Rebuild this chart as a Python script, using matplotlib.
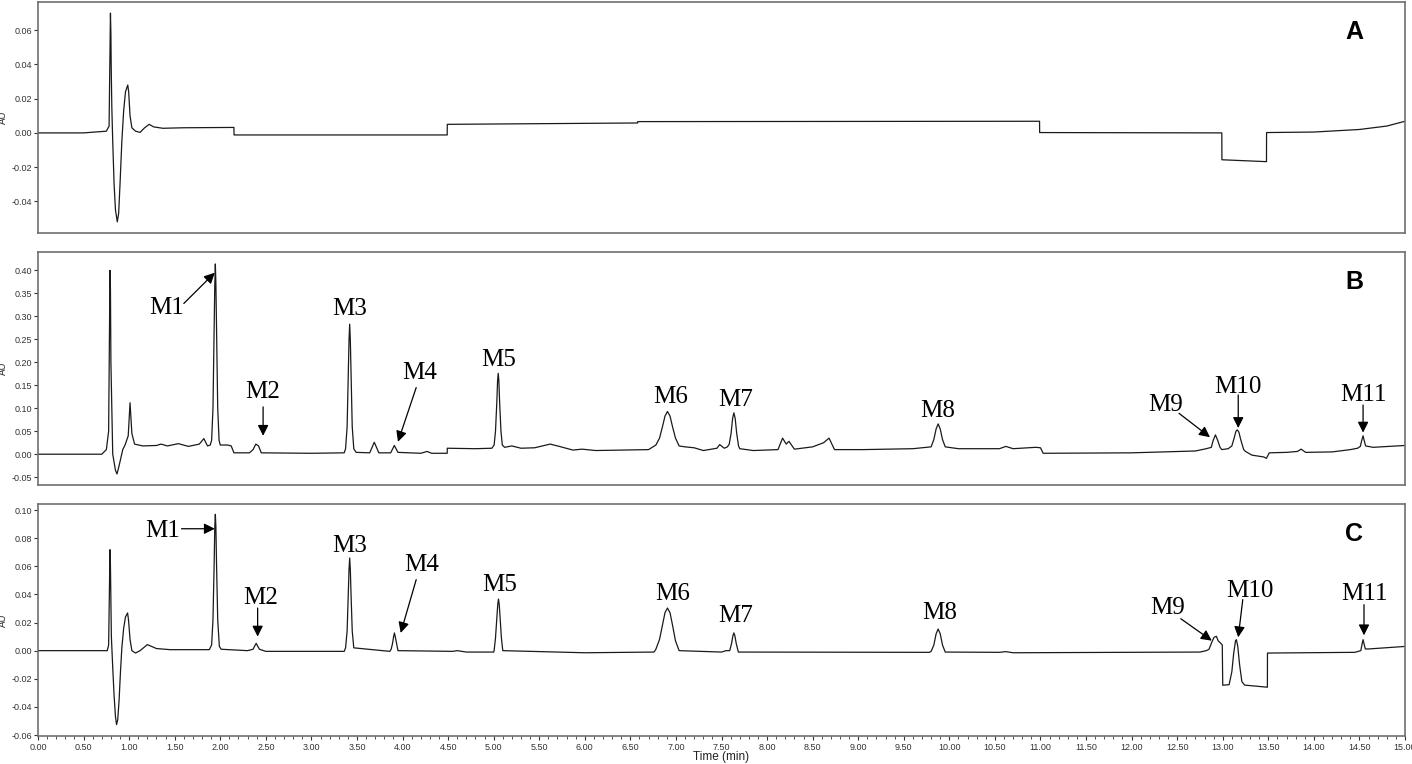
import matplotlib
matplotlib.use("Agg")
import matplotlib.pyplot as plt
from matplotlib.ticker import MultipleLocator, FormatStrFormatter

plt.rcParams['axes.unicode_minus'] = False

t_A = [0.00, 0.50, 0.75, 0.78, 0.795, 0.80, 0.803, 0.81, 0.82, 0.835, 0.85, 0.87, 0.885, 0.90,
       0.92, 0.94, 0.96, 0.985, 0.995, 1.01, 1.03, 1.07, 1.12, 1.17, 1.22, 1.27, 1.37, 1.60,
       2.15, 2.151, 4.49, 4.491, 6.58, 6.581, 10.99, 10.991, 12.99, 12.991, 13.48, 13.481,
       14.00, 14.50, 14.80, 15.00]
au_A = [0.000, 0.000, 0.001, 0.004, 0.070, 0.058, 0.040, 0.015, -0.005, -0.030, -0.045, -0.052,
        -0.047, -0.030, -0.005, 0.013, 0.024, 0.028, 0.024, 0.010, 0.003, 0.001, 0.0003, 0.003,
        0.005, 0.0035, 0.0027, 0.003, 0.0032, -0.0012, -0.0012, 0.0050, 0.0058, 0.0066,
        0.0068, 0.0002, 0.0000, -0.0157, -0.0168, 0.0002, 0.0005, 0.002, 0.004, 0.0068]

t_B = [0.00, 0.70, 0.75, 0.775, 0.79, 0.795, 0.80, 0.82, 0.85, 0.867, 0.89, 0.93, 0.955, 0.99,
       1.01, 1.03, 1.06, 1.15, 1.30, 1.35, 1.42, 1.54, 1.65, 1.77, 1.82, 1.86, 1.89,
       1.905, 1.92, 1.933, 1.940, 1.946, 1.952, 1.959, 1.972, 1.987, 2.00,
       2.08, 2.12, 2.15, 2.32, 2.36, 2.39, 2.42, 2.45, 3.00,
       3.36, 3.375, 3.392, 3.405, 3.413, 3.42, 3.427, 3.435, 3.448, 3.465, 3.49,
       3.64, 3.69, 3.74, 3.87, 3.91, 3.95, 4.20, 4.27, 4.32, 4.49, 4.491, 4.80, 4.98,
       5.005, 5.02, 5.035, 5.043, 5.05, 5.057, 5.065, 5.08, 5.095, 5.12,
       5.20, 5.30, 5.45, 5.62, 5.72, 5.87, 5.97, 6.12, 6.70,
       6.78, 6.82, 6.855, 6.88, 6.907, 6.935, 6.96, 6.995, 7.035,
       7.10, 7.20, 7.30, 7.45, 7.48, 7.53, 7.565,
       7.585, 7.605, 7.622, 7.636, 7.65, 7.667, 7.687, 7.70,
       7.85, 8.12, 8.17, 8.21, 8.24, 8.30, 8.50, 8.62, 8.68, 8.74, 9.05, 9.30, 9.60,
       9.80, 9.83, 9.855, 9.877, 9.90, 9.925, 9.955,
       10.10, 10.55, 10.62, 10.70, 10.95, 11.00, 11.03, 12.00, 12.70, 12.82,
       12.875, 12.895, 12.92, 12.945, 12.97, 12.99, 13.06,
       13.10, 13.125, 13.145, 13.16, 13.177, 13.20, 13.23,
       13.25, 13.32, 13.45, 13.48, 13.51, 13.70, 13.82, 13.86, 13.91, 14.20, 14.40, 14.48,
       14.51, 14.525, 14.54, 14.552, 14.568, 14.65, 15.00]
au_B = [0.000, 0.000, 0.010, 0.050, 0.400, 0.360, 0.200, 0.000, -0.035, -0.043, -0.025, 0.010,
        0.020, 0.040, 0.112, 0.045, 0.022, 0.018, 0.019, 0.022, 0.018, 0.023, 0.017, 0.022,
        0.034, 0.018, 0.020,
        0.030, 0.100, 0.270, 0.370, 0.414, 0.370, 0.270, 0.100, 0.030, 0.020,
        0.020, 0.018, 0.003, 0.003, 0.010, 0.022, 0.018, 0.003, 0.002,
        0.003, 0.012, 0.060, 0.175, 0.250, 0.283, 0.250, 0.175, 0.060, 0.012, 0.004,
        0.003, 0.026, 0.003, 0.003, 0.019, 0.004, 0.002, 0.006, 0.002, 0.002, 0.013, 0.012, 0.013,
        0.020, 0.050, 0.115, 0.160, 0.176, 0.160, 0.115, 0.050, 0.020, 0.015,
        0.018, 0.013, 0.014, 0.022, 0.017, 0.009, 0.011, 0.008, 0.010,
        0.020, 0.035, 0.062, 0.083, 0.093, 0.083, 0.062, 0.035, 0.018,
        0.016, 0.014, 0.008, 0.013, 0.021, 0.013, 0.016,
        0.022, 0.045, 0.078, 0.090, 0.078, 0.045, 0.018, 0.012,
        0.008, 0.010, 0.035, 0.022, 0.028, 0.011, 0.016, 0.025, 0.035, 0.010, 0.010, 0.011, 0.012,
        0.016, 0.032, 0.055, 0.066, 0.055, 0.032, 0.016,
        0.012, 0.012, 0.017, 0.012, 0.015, 0.014, 0.002, 0.003, 0.007, 0.012,
        0.015, 0.030, 0.042, 0.030, 0.015, 0.010, 0.012,
        0.018, 0.035, 0.050, 0.053, 0.048, 0.030, 0.010,
        0.006, -0.002, -0.006, -0.009, 0.003, 0.004, 0.006, 0.011, 0.004, 0.005, 0.010, 0.013,
        0.017, 0.030, 0.040, 0.030, 0.018, 0.015, 0.019]

t_C = [0.00, 0.76, 0.775, 0.79, 0.795, 0.805, 0.82, 0.835, 0.85, 0.862, 0.875, 0.89, 0.905,
       0.92, 0.94, 0.96, 0.983, 0.993, 1.01, 1.03, 1.07, 1.12, 1.20, 1.30, 1.45, 1.88,
       1.905, 1.92, 1.933, 1.940, 1.946, 1.952, 1.959, 1.972, 1.99, 2.01, 2.30,
       2.36, 2.375, 2.394, 2.412, 2.43, 2.50, 3.36,
       3.375, 3.392, 3.405, 3.413, 3.42, 3.427, 3.435, 3.448, 3.465, 3.86,
       3.875, 3.89, 3.902, 3.911, 3.92, 3.935, 3.95, 4.55, 4.60, 4.70, 5.00,
       5.005, 5.02, 5.035, 5.045, 5.053, 5.061, 5.07, 5.085, 5.10, 6.00, 6.76,
       6.78, 6.82, 6.855, 6.88, 6.907, 6.935, 6.96, 6.995, 7.035, 7.50, 7.55,
       7.59, 7.61, 7.625, 7.636, 7.647, 7.662, 7.685, 9.78,
       9.80, 9.83, 9.855, 9.877, 9.90, 9.925, 9.955, 10.55, 10.62, 10.70, 12.75,
       12.82, 12.85, 12.88, 12.905, 12.93, 12.95, 12.975, 12.995, 13.00, 13.07,
       13.10, 13.12, 13.14, 13.15, 13.165, 13.185, 13.21, 13.24, 13.49, 13.491, 14.45,
       14.515, 14.53, 14.54, 14.55, 14.565, 14.60, 15.00]
au_C = [0.000, 0.000, 0.004, 0.0718, 0.060, 0.010, -0.012, -0.032, -0.047, -0.0526, -0.049,
        -0.035, -0.015, 0.002, 0.016, 0.024, 0.0268, 0.022, 0.008, 0.000, -0.0017, 0.000,
        0.0043, 0.0015, 0.0007, 0.0007,
        0.004, 0.022, 0.062, 0.088, 0.097, 0.088, 0.062, 0.022, 0.003, 0.001, 0.000,
        0.001, 0.003, 0.0052, 0.003, 0.001, -0.0005, -0.0005,
        0.002, 0.014, 0.040, 0.058, 0.0659, 0.058, 0.040, 0.014, 0.002, -0.0005,
        0.001, 0.005, 0.010, 0.0126, 0.010, 0.005, 0.000, -0.0005, 0.000, -0.001, -0.001,
        0.000, 0.009, 0.024, 0.033, 0.0367, 0.033, 0.024, 0.009, 0.000, -0.0015, -0.001,
        0.001, 0.008, 0.019, 0.027, 0.0303, 0.027, 0.019, 0.007, 0.000, -0.001, 0.000,
        0.000, 0.005, 0.0105, 0.0126, 0.0105, 0.005, -0.001, -0.0012,
        -0.0005, 0.004, 0.012, 0.0154, 0.012, 0.004, -0.001, -0.0012, -0.0007, -0.0015, -0.001,
        0.000, 0.001, 0.006, 0.0095, 0.0102, 0.007, 0.0055, 0.004, -0.0246, -0.0242,
        -0.015, -0.002, 0.0070, 0.0078, 0.003, -0.010, -0.022, -0.0245, -0.026, -0.0017, -0.0012,
        0.000, 0.005, 0.0078, 0.005, 0.0012, 0.0012, 0.003]

# ---- etiquetas de picos ----
labels = ["M1", "M2", "M3", "M4", "M5", "M6", "M7", "M8", "M9", "M10", "M11"]

# posicion del texto y flecha (cola -> punta), None = sin flecha
lab_B = [(1.41, 0.318), (2.47, 0.136), (3.42, 0.317), (4.19, 0.177), (5.06, 0.206),
         (6.94, 0.125), (7.65, 0.118), (9.87, 0.093), (12.37, 0.108), (13.17, 0.147),
         (14.54, 0.129)]
arr_B = [((1.60, 0.328), (1.94, 0.395)), ((2.47, 0.103), (2.47, 0.040)), None,
         ((4.15, 0.145), (3.95, 0.027)), None, None, None, None,
         ((12.52, 0.089), (12.86, 0.037)), ((13.17, 0.129), (13.17, 0.057)),
         ((14.54, 0.107), (14.54, 0.047))]

lab_C = [(1.37, 0.0853), (2.44, 0.0374), (3.42, 0.0742), (4.21, 0.0611), (5.07, 0.047),
         (6.96, 0.040), (7.65, 0.0244), (9.89, 0.0268), (12.40, 0.0303), (13.30, 0.0427),
         (14.55, 0.0403)]
arr_C = [((1.575, 0.0867), (1.94, 0.0867)), ((2.41, 0.0303), (2.41, 0.0100)), None,
         ((4.15, 0.0505), (3.98, 0.0126)), None, None, None, None,
         ((12.54, 0.0227), (12.88, 0.0071)), ((13.22, 0.0363), (13.17, 0.0095)),
         ((14.55, 0.0327), (14.55, 0.0109))]

W, H = 1412, 764
fig = plt.figure(figsize=(W / 100, H / 100), dpi=100)


def make_ax(top, bottom):
    return fig.add_axes([38 / W, 1 - bottom / H, 1367 / W, (bottom - top) / H])


axA = make_ax(2, 233)
axB = make_ax(252, 485)
axC = make_ax(504, 736)

tick_font = ['Liberation Sans Narrow', 'Liberation Sans', 'DejaVu Sans']

for ax, t, au, ylim, step, letter in [
        (axA, t_A, au_A, (-0.0585, 0.0765), 0.02, "A"),
        (axB, t_B, au_B, (-0.067, 0.44), 0.05, "B"),
        (axC, t_C, au_C, (-0.0607, 0.1043), 0.02, "C")]:
    ax.plot(t, au, color="#1a1a1a", lw=0.9)
    ax.set_xlim(0, 15)
    ax.set_ylim(*ylim)
    ax.yaxis.set_major_locator(MultipleLocator(step))
    ax.yaxis.set_major_formatter(FormatStrFormatter("%.2f"))
    ax.tick_params(axis="y", direction="out", length=3, width=0.8, labelsize=6.5, pad=1,
                   colors="#333333")
    for lab in ax.get_yticklabels():
        lab.set_family(tick_font)
    for s in ax.spines.values():
        s.set_color("#707070")
        s.set_linewidth(1.2)
    ax.set_ylabel("AU", fontsize=7, family=tick_font, labelpad=3, color="#333333")
    ax.text(0.963, 0.87, letter, transform=ax.transAxes, ha="center", va="center",
            fontsize=18, fontweight="bold", family=['Liberation Sans', 'DejaVu Sans'])

for ax in (axA, axB):
    ax.tick_params(axis="x", which="both", bottom=False, labelbottom=False)

axC.xaxis.set_major_locator(MultipleLocator(0.5))
axC.xaxis.set_minor_locator(MultipleLocator(0.1))
axC.xaxis.set_major_formatter(FormatStrFormatter("%.2f"))
axC.tick_params(axis="x", which="major", direction="out", length=3, width=0.8,
                labelsize=6.5, pad=2, colors="#333333")
axC.tick_params(axis="x", which="minor", direction="out", length=1.8, width=0.6,
                colors="#333333")
for lab in axC.get_xticklabels():
    lab.set_family(tick_font)
axC.set_xlabel("Time (min)", fontsize=8.5, family=tick_font, labelpad=-1, color="#222222")

for ax, pos, arrs in [(axB, lab_B, arr_B), (axC, lab_C, arr_C)]:
    for name, (x, y), arr in zip(labels, pos, arrs):
        ax.text(x, y, name, ha="center", va="center", fontsize=18,
                family=['Liberation Serif', 'DejaVu Serif'])
        if arr is not None:
            ax.annotate("", xy=arr[1], xytext=arr[0],
                        arrowprops=dict(arrowstyle="-|>", color="black", lw=0.9,
                                        mutation_scale=16, shrinkA=0, shrinkB=0))

fig.savefig("out.png", dpi=100)
